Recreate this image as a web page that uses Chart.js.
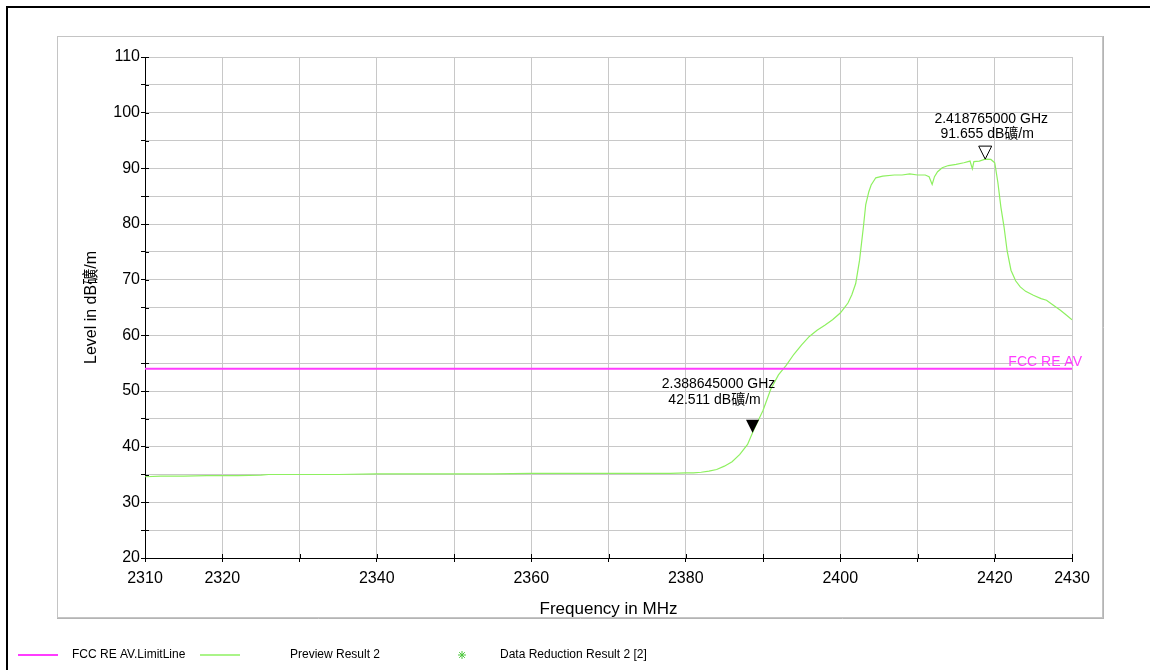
<!DOCTYPE html>
<html>
<head>
<meta charset="utf-8">
<title>Level vs Frequency</title>
<script src="https://cdn.jsdelivr.net/npm/chart.js@4/dist/chart.umd.min.js"></script>
<style>
    html, body { margin: 0; padding: 0; background: #fff; }
    #wrap { width: 1150px; height: 670px; position: relative; }
</style>
</head>
<body>
<div id="wrap"><canvas id="chart" width="1150" height="670"></canvas></div>
<script>
// --- data ---
const previewFreq = [
    2310, 2312, 2315, 2318, 2320, 2322, 2325, 2326, 2330, 2335, 2340, 2345, 2350, 2355,
    2360, 2365, 2370, 2375, 2378, 2380, 2381, 2382, 2383, 2384, 2385, 2386, 2387, 2388,
    2388.645, 2389, 2390, 2391, 2392, 2393, 2394, 2395, 2396, 2397, 2398, 2399, 2400,
    2400.5, 2401, 2401.5, 2402, 2402.5, 2403, 2403.3, 2403.7, 2404, 2404.6, 2405.5, 2407,
    2408, 2409, 2410, 2411, 2411.5, 2411.9, 2412.2, 2412.6, 2413.2, 2414, 2415, 2416,
    2416.8, 2417.1, 2417.3, 2418, 2418.765, 2419.5, 2420, 2420.4, 2420.8, 2421.2, 2421.6,
    2422.1, 2422.7, 2423.3, 2424, 2425, 2426, 2426.7, 2427.5, 2428.5, 2429.3, 2430
];
const previewLevel = [
    34.6, 34.7, 34.7, 34.8, 34.8, 34.8, 34.9, 35.0, 35.0, 35.0, 35.1, 35.1, 35.1, 35.1,
    35.2, 35.2, 35.2, 35.2, 35.2, 35.3, 35.3, 35.4, 35.6, 35.9, 36.5, 37.3, 38.6, 40.4,
    42.511, 43.6, 46.5, 50.3, 52.9, 54.6, 56.6, 58.3, 59.8, 60.9, 61.8, 62.8, 64.0,
    64.9, 65.8, 67.3, 69.3, 73.5, 79.5, 83.5, 85.8, 87.0, 88.3, 88.6, 88.8,
    88.8, 89.0, 88.8, 88.8, 88.5, 87.1, 88.5, 89.4, 90.1, 90.5, 90.7, 91.0,
    91.3, 89.9, 91.2, 91.3, 91.655, 91.6, 91.0, 87.5, 83.0, 79.5, 75.2,
    71.7, 69.8, 68.7, 67.9, 67.2, 66.6, 66.3, 65.5, 64.5, 63.6, 62.8
];
const limitFreq = [2310, 2430];
const limitLevel = [54, 54];
const limitName = 'FCC RE AV';

const markerFreq = [2418.765, 2388.645];
const markerLevel = [91.655, 42.511];
const markerText = [
    ['2.418765000 GHz', '91.655 dB礦/m'],
    ['2.388645000 GHz', '42.511 dB礦/m']
];

const xLabelsShown = [2310, 2320, 2340, 2360, 2380, 2400, 2420, 2430];
const yLabelsShown = [20, 30, 40, 50, 60, 70, 80, 90, 100, 110];

const legendNames = ['FCC RE AV.LimitLine', 'Preview Result 2', 'Data Reduction Result 2 [2]'];

// --- styles ---
const FONT = '"Liberation Sans", Arial, "Noto Sans CJK SC", sans-serif';
const GREEN = '#8ef060';
const MAGENTA = '#ff3cff';
const GRID = '#c8c8c8';

// marker drawing styles (hollow / filled) and label offsets
const markerStyle = [
    { filled: false, dx: [6, 2], dy: [-40, -25] },
    { filled: true,  dx: [-34, -38], dy: [-49, -33] }
];

const toPoints = (xs, ys) => xs.map((x, i) => ({ x: x, y: ys[i] }));

// frame, markers, inner tick halves, limit label and legend
const decorPlugin = {
    id: 'decor',
    beforeDraw(chart) {
        const c = chart.ctx;
        c.save();
        c.fillStyle = '#fff';
        c.fillRect(0, 0, chart.width, chart.height);
        // outer black frame
        c.strokeStyle = '#000';
        c.lineWidth = 2;
        c.strokeRect(7, 7, 1200, 700);
        // grey panel frame
        c.strokeStyle = '#c4c4c4';
        c.lineWidth = 1;
        c.strokeRect(57.5, 36.5, 1045, 581);
        c.strokeStyle = '#b4b4b4';
        c.beginPath();
        c.moveTo(1103.5, 36);
        c.lineTo(1103.5, 619);
        c.moveTo(57, 618.5);
        c.lineTo(1104, 618.5);
        c.stroke();
        c.restore();
    },
    afterDraw(chart) {
        const c = chart.ctx;
        const xs = chart.scales.x;
        const ys = chart.scales.y;
        const area = chart.chartArea;
        c.save();

        // inner halves of the cross ticks
        c.strokeStyle = '#000';
        c.lineWidth = 1;
        c.beginPath();
        xs.ticks.forEach(t => {
            const px = Math.round(xs.getPixelForValue(t.value)) + 0.5;
            c.moveTo(px, area.bottom);
            c.lineTo(px, area.bottom - 4);
        });
        ys.ticks.forEach(t => {
            const py = Math.round(ys.getPixelForValue(t.value)) + 0.5;
            c.moveTo(area.left, py);
            c.lineTo(area.left + 4, py);
        });
        c.stroke();

        // limit line label
        c.fillStyle = MAGENTA;
        c.font = '14px ' + FONT;
        c.textAlign = 'right';
        c.textBaseline = 'alphabetic';
        c.fillText(limitName, area.right + 10, ys.getPixelForValue(limitLevel[1]) - 3);

        // markers
        markerFreq.forEach((f, i) => {
            const px = xs.getPixelForValue(f);
            const py = ys.getPixelForValue(markerLevel[i]);
            const st = markerStyle[i];
            c.beginPath();
            c.moveTo(px, py);
            c.lineTo(px - 6.5, py - 13);
            c.lineTo(px + 6.5, py - 13);
            c.closePath();
            if (st.filled) {
                c.fillStyle = '#000';
                c.fill();
            } else {
                c.fillStyle = '#fff';
                c.fill();
                c.strokeStyle = '#000';
                c.lineWidth = 1;
                c.stroke();
            }
            c.fillStyle = '#000';
            c.font = '14px ' + FONT;
            c.textAlign = 'center';
            c.textBaseline = 'middle';
            markerText[i].forEach((line, k) => {
                c.fillText(line, px + st.dx[k], py + st.dy[k]);
            });
        });

        // legend
        const ly = 655;
        c.font = '12px ' + FONT;
        c.textAlign = 'left';
        c.textBaseline = 'middle';
        c.fillStyle = '#000';

        c.strokeStyle = MAGENTA;
        c.lineWidth = 2;
        c.beginPath();
        c.moveTo(18, ly);
        c.lineTo(58, ly);
        c.stroke();
        c.fillText(legendNames[0], 72, ly);

        c.strokeStyle = GREEN;
        c.lineWidth = 1.5;
        c.beginPath();
        c.moveTo(200, ly);
        c.lineTo(240, ly);
        c.stroke();
        c.fillText(legendNames[1], 290, ly);

        // asterisk symbol
        const sx = 462, sy = ly;
        c.strokeStyle = '#4cc83c';
        c.lineWidth = 1;
        c.beginPath();
        for (let a = 0; a < 4; a++) {
            const ang = a * Math.PI / 4;
            c.moveTo(sx - 4 * Math.cos(ang), sy - 4 * Math.sin(ang));
            c.lineTo(sx + 4 * Math.cos(ang), sy + 4 * Math.sin(ang));
        }
        c.stroke();
        c.fillText(legendNames[2], 500, ly);

        c.restore();
    }
};

const ctx = document.getElementById('chart').getContext('2d');
new Chart(ctx, {
    type: 'line',
    data: {
        datasets: [
            {
                label: legendNames[0],
                data: toPoints(limitFreq, limitLevel),
                borderColor: MAGENTA,
                borderWidth: 2,
                pointRadius: 0,
                tension: 0
            },
            {
                label: legendNames[1],
                data: toPoints(previewFreq, previewLevel),
                borderColor: GREEN,
                borderWidth: 1.2,
                pointRadius: 0,
                tension: 0
            }
        ]
    },
    options: {
        responsive: false,
        animation: false,
        events: [],
        layout: {
            padding: { left: 82, right: 78, top: 57, bottom: 50 }
        },
        plugins: {
            legend: { display: false },
            tooltip: { enabled: false }
        },
        scales: {
            x: {
                type: 'linear',
                min: 2310,
                max: 2430,
                afterFit: scale => { scale.height = 62; },
                ticks: {
                    stepSize: 10,
                    autoSkip: false,
                    maxRotation: 0,
                    padding: 7,
                    color: '#000',
                    font: { family: FONT, size: 16 },
                    callback: v => xLabelsShown.includes(v) ? String(v) : ''
                },
                grid: {
                    color: GRID,
                    tickColor: '#000',
                    tickLength: 4
                },
                border: { color: '#000', width: 1 },
                title: {
                    display: true,
                    text: 'Frequency in MHz',
                    color: '#000',
                    font: { family: FONT, size: 17 },
                    padding: { top: 0, bottom: 0 }
                }
            },
            y: {
                min: 20,
                max: 110,
                afterFit: scale => { scale.width = 63; },
                ticks: {
                    stepSize: 5,
                    autoSkip: false,
                    padding: 1,
                    color: '#000',
                    font: { family: FONT, size: 16 },
                    callback: v => yLabelsShown.includes(v) ? String(v) : ''
                },
                grid: {
                    color: GRID,
                    tickColor: '#000',
                    tickLength: 4
                },
                border: { color: '#000', width: 1 },
                title: {
                    display: true,
                    text: 'Level in dB礦/m',
                    color: '#000',
                    font: { family: FONT, size: 16 },
                    padding: { top: 0, bottom: 0 }
                }
            }
        }
    },
    plugins: [decorPlugin]
});
</script>
</body>
</html>
